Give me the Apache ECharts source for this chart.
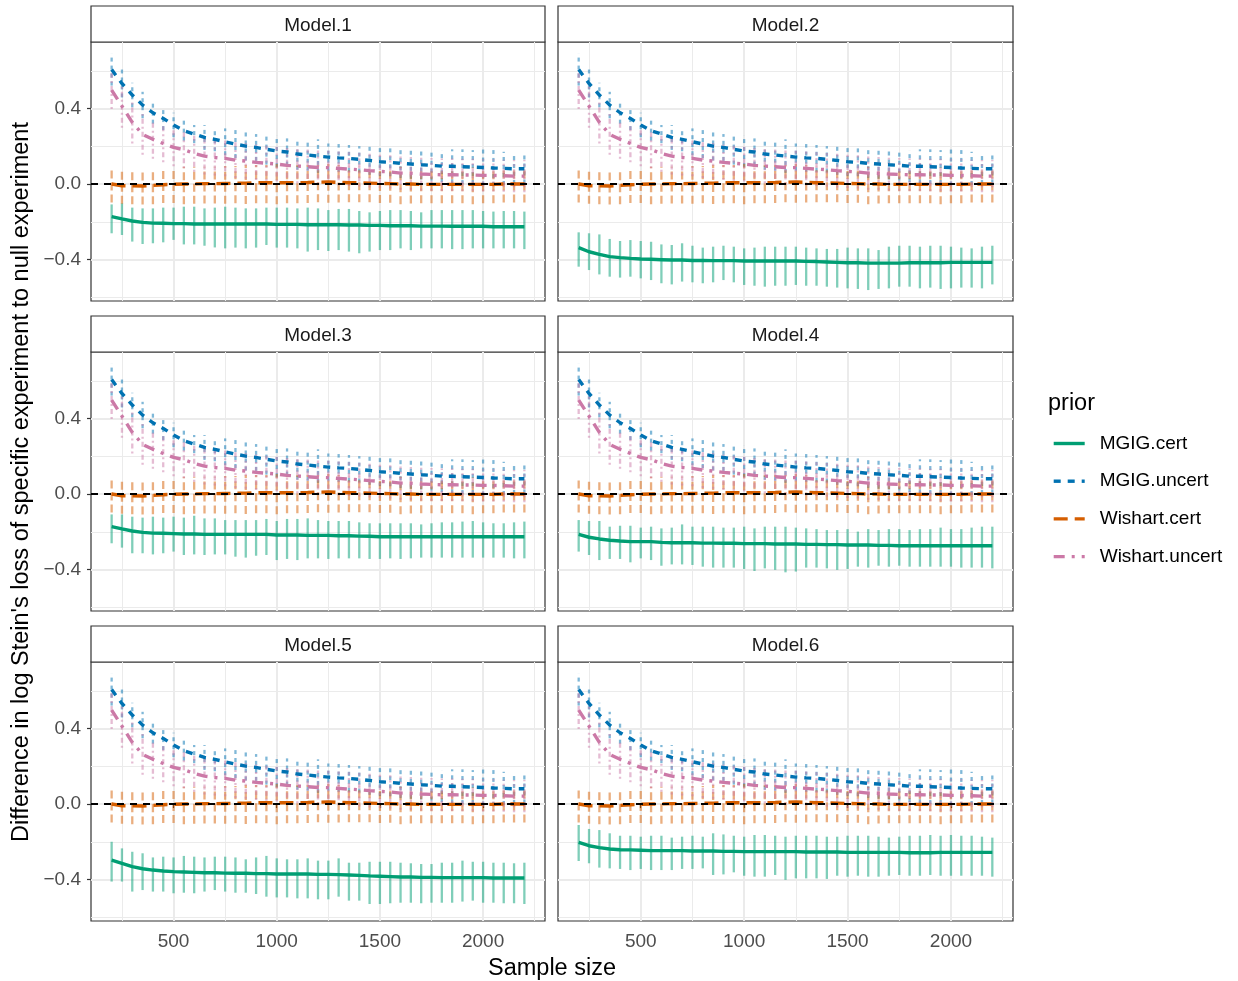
<!DOCTYPE html>
<html>
<head>
<meta charset="utf-8">
<script src="https://cdn.jsdelivr.net/npm/echarts@6/dist/echarts.min.js"></script>
<style>
  html, body { margin: 0; padding: 0; background: #fff; }
  #main { width: 1238px; height: 981px; }
</style>
</head>
<body>
<div id="main"></div>
<script>
// ---- data ----
var sampleSize = [200,250,300,350,400,450,500,550,600,650,700,750,800,850,900,950,1000,1050,1100,1150,1200,
                  1250,1300,1350,1400,1450,1500,1550,1600,1650,1700,1750,1800,1850,1900,1950,2000,2050,2100,2150,2200];
var panelNames = ['Model.1','Model.2','Model.3','Model.4','Model.5','Model.6'];
var priors = ['MGIG.cert','MGIG.uncert','Wishart.cert','Wishart.uncert'];
var xTicks = [500,1000,1500,2000];
var xMinor = [250,750,1250,1750,2250];
var yTicks = [-0.4,0,0.4];
var yMinor = [-0.6,-0.2,0.2,0.6];

// MGIG.cert differs per model
var mgigCertMean = [
  [-0.173,-0.185,-0.196,-0.203,-0.207,-0.208,-0.210,-0.210,-0.212,-0.212,-0.212,-0.212,-0.212,-0.212,-0.212,-0.212,-0.214,-0.214,-0.214,-0.216,-0.216,-0.216,-0.216,-0.217,-0.217,-0.219,-0.219,-0.221,-0.221,-0.221,-0.223,-0.223,-0.223,-0.224,-0.224,-0.224,-0.224,-0.226,-0.226,-0.226,-0.226],
  [-0.337,-0.359,-0.373,-0.385,-0.390,-0.394,-0.397,-0.399,-0.401,-0.403,-0.403,-0.405,-0.405,-0.406,-0.406,-0.406,-0.408,-0.408,-0.408,-0.408,-0.408,-0.408,-0.410,-0.411,-0.413,-0.415,-0.417,-0.417,-0.419,-0.419,-0.419,-0.419,-0.417,-0.417,-0.417,-0.417,-0.415,-0.415,-0.415,-0.415,-0.415],
  [-0.173,-0.185,-0.196,-0.203,-0.207,-0.208,-0.210,-0.212,-0.212,-0.214,-0.214,-0.214,-0.214,-0.214,-0.214,-0.214,-0.217,-0.217,-0.217,-0.219,-0.219,-0.219,-0.221,-0.221,-0.223,-0.224,-0.226,-0.226,-0.226,-0.226,-0.226,-0.226,-0.226,-0.226,-0.226,-0.226,-0.226,-0.226,-0.226,-0.226,-0.226],
  [-0.214,-0.229,-0.238,-0.245,-0.249,-0.252,-0.252,-0.252,-0.256,-0.258,-0.258,-0.258,-0.260,-0.260,-0.261,-0.261,-0.263,-0.263,-0.263,-0.265,-0.265,-0.265,-0.267,-0.267,-0.268,-0.268,-0.270,-0.270,-0.270,-0.272,-0.272,-0.274,-0.274,-0.274,-0.274,-0.274,-0.274,-0.274,-0.274,-0.274,-0.274],
  [-0.297,-0.314,-0.332,-0.343,-0.350,-0.355,-0.358,-0.360,-0.362,-0.364,-0.364,-0.366,-0.367,-0.367,-0.369,-0.369,-0.371,-0.371,-0.371,-0.371,-0.373,-0.373,-0.374,-0.376,-0.378,-0.381,-0.383,-0.385,-0.387,-0.387,-0.389,-0.389,-0.390,-0.390,-0.390,-0.390,-0.390,-0.392,-0.392,-0.392,-0.392],
  [-0.203,-0.221,-0.231,-0.238,-0.242,-0.243,-0.245,-0.247,-0.247,-0.247,-0.247,-0.249,-0.249,-0.249,-0.251,-0.251,-0.252,-0.252,-0.252,-0.252,-0.252,-0.252,-0.254,-0.254,-0.254,-0.254,-0.256,-0.256,-0.256,-0.256,-0.256,-0.256,-0.258,-0.258,-0.258,-0.256,-0.256,-0.256,-0.256,-0.256,-0.256]
];
var mgigCertHi = [
  [-0.108,-0.102,-0.125,-0.129,-0.129,-0.125,-0.125,-0.120,-0.120,-0.129,-0.125,-0.120,-0.125,-0.129,-0.129,-0.125,-0.125,-0.125,-0.129,-0.125,-0.129,-0.138,-0.132,-0.132,-0.143,-0.150,-0.143,-0.138,-0.138,-0.143,-0.150,-0.138,-0.138,-0.138,-0.138,-0.138,-0.143,-0.146,-0.143,-0.143,-0.146],
  [-0.256,-0.261,-0.267,-0.291,-0.302,-0.297,-0.302,-0.306,-0.320,-0.323,-0.314,-0.327,-0.337,-0.332,-0.327,-0.332,-0.341,-0.337,-0.332,-0.332,-0.332,-0.332,-0.337,-0.341,-0.344,-0.344,-0.337,-0.341,-0.341,-0.350,-0.332,-0.327,-0.327,-0.332,-0.327,-0.327,-0.332,-0.337,-0.341,-0.332,-0.327],
  [-0.108,-0.108,-0.120,-0.125,-0.120,-0.125,-0.120,-0.125,-0.115,-0.129,-0.129,-0.138,-0.138,-0.138,-0.138,-0.132,-0.143,-0.132,-0.132,-0.129,-0.138,-0.143,-0.143,-0.143,-0.150,-0.155,-0.155,-0.155,-0.155,-0.155,-0.161,-0.155,-0.150,-0.150,-0.146,-0.143,-0.150,-0.155,-0.155,-0.150,-0.146],
  [-0.138,-0.143,-0.143,-0.173,-0.168,-0.168,-0.178,-0.173,-0.182,-0.178,-0.161,-0.173,-0.173,-0.173,-0.178,-0.178,-0.173,-0.182,-0.173,-0.173,-0.173,-0.178,-0.182,-0.186,-0.191,-0.191,-0.186,-0.199,-0.186,-0.191,-0.186,-0.186,-0.191,-0.186,-0.186,-0.178,-0.186,-0.186,-0.178,-0.173,-0.173],
  [-0.200,-0.235,-0.253,-0.261,-0.283,-0.279,-0.283,-0.275,-0.279,-0.283,-0.279,-0.279,-0.283,-0.293,-0.283,-0.275,-0.288,-0.293,-0.293,-0.288,-0.300,-0.300,-0.288,-0.311,-0.311,-0.306,-0.306,-0.306,-0.311,-0.314,-0.318,-0.318,-0.311,-0.311,-0.300,-0.306,-0.306,-0.311,-0.311,-0.314,-0.311],
  [-0.111,-0.132,-0.138,-0.155,-0.168,-0.168,-0.173,-0.168,-0.168,-0.178,-0.173,-0.168,-0.173,-0.155,-0.161,-0.168,-0.173,-0.164,-0.164,-0.168,-0.173,-0.168,-0.168,-0.168,-0.173,-0.173,-0.168,-0.168,-0.168,-0.173,-0.178,-0.173,-0.168,-0.168,-0.164,-0.168,-0.164,-0.168,-0.168,-0.173,-0.178]
];
var mgigCertLo = [
  [-0.261,-0.270,-0.305,-0.318,-0.314,-0.309,-0.296,-0.320,-0.320,-0.327,-0.336,-0.341,-0.337,-0.341,-0.337,-0.323,-0.337,-0.337,-0.341,-0.358,-0.350,-0.355,-0.350,-0.358,-0.367,-0.358,-0.350,-0.350,-0.341,-0.350,-0.341,-0.341,-0.341,-0.345,-0.345,-0.341,-0.341,-0.341,-0.341,-0.341,-0.345],
  [-0.438,-0.456,-0.479,-0.491,-0.496,-0.491,-0.500,-0.509,-0.526,-0.532,-0.517,-0.521,-0.526,-0.521,-0.509,-0.521,-0.535,-0.539,-0.544,-0.539,-0.539,-0.535,-0.539,-0.539,-0.544,-0.549,-0.553,-0.556,-0.562,-0.556,-0.553,-0.544,-0.544,-0.553,-0.549,-0.556,-0.553,-0.549,-0.549,-0.553,-0.532],
  [-0.261,-0.284,-0.314,-0.314,-0.320,-0.314,-0.305,-0.323,-0.320,-0.323,-0.320,-0.320,-0.332,-0.337,-0.327,-0.323,-0.350,-0.344,-0.350,-0.341,-0.341,-0.344,-0.341,-0.341,-0.341,-0.344,-0.344,-0.341,-0.344,-0.341,-0.337,-0.337,-0.337,-0.337,-0.337,-0.337,-0.337,-0.337,-0.337,-0.341,-0.341],
  [-0.305,-0.323,-0.350,-0.344,-0.344,-0.362,-0.341,-0.350,-0.380,-0.373,-0.373,-0.376,-0.385,-0.390,-0.390,-0.390,-0.397,-0.408,-0.394,-0.402,-0.415,-0.411,-0.390,-0.390,-0.394,-0.402,-0.397,-0.385,-0.390,-0.380,-0.385,-0.380,-0.385,-0.385,-0.385,-0.385,-0.385,-0.390,-0.390,-0.390,-0.394],
  [-0.411,-0.411,-0.464,-0.456,-0.464,-0.464,-0.473,-0.470,-0.473,-0.464,-0.456,-0.464,-0.470,-0.470,-0.477,-0.491,-0.495,-0.495,-0.500,-0.500,-0.505,-0.505,-0.491,-0.512,-0.512,-0.530,-0.530,-0.526,-0.523,-0.523,-0.526,-0.523,-0.523,-0.523,-0.517,-0.512,-0.523,-0.523,-0.526,-0.526,-0.530],
  [-0.302,-0.314,-0.337,-0.341,-0.344,-0.350,-0.344,-0.350,-0.350,-0.350,-0.344,-0.344,-0.341,-0.376,-0.373,-0.362,-0.380,-0.385,-0.385,-0.376,-0.402,-0.394,-0.394,-0.394,-0.397,-0.380,-0.385,-0.380,-0.385,-0.385,-0.380,-0.376,-0.380,-0.380,-0.376,-0.380,-0.380,-0.380,-0.380,-0.380,-0.385]
];

// the other three priors look the same in every model
var mgigUncertMean = [0.607,0.533,0.472,0.419,0.378,0.348,0.313,0.283,0.265,0.247,0.237,0.224,0.212,0.201,0.194,0.184,0.175,0.170,0.159,0.154,0.148,0.143,0.139,0.136,0.131,0.125,0.118,0.115,0.110,0.106,0.102,0.099,0.095,0.094,0.092,0.090,0.088,0.085,0.083,0.081,0.081];
var mgigUncertHi = [0.692,0.607,0.537,0.489,0.436,0.410,0.378,0.336,0.313,0.313,0.300,0.295,0.286,0.277,0.265,0.265,0.260,0.242,0.242,0.237,0.237,0.215,0.212,0.207,0.201,0.201,0.194,0.189,0.189,0.184,0.180,0.180,0.180,0.184,0.184,0.180,0.184,0.180,0.171,0.162,0.159];
var mgigUncertLo = [0.522,0.459,0.407,0.349,0.320,0.286,0.248,0.230,0.217,0.181,0.174,0.153,0.138,0.125,0.123,0.103,0.090,0.098,0.076,0.071,0.059,0.071,0.066,0.065,0.061,0.049,0.042,0.041,0.031,0.028,0.024,0.018,0.010,0.004,0.000,0.000,-0.008,-0.010,-0.005,0.000,0.003];

var wishartCertMean = [0.000,-0.009,-0.009,-0.010,-0.007,-0.004,-0.001,0.000,0.001,0.002,0.002,0.003,0.004,0.005,0.007,0.007,0.007,0.007,0.007,0.008,0.010,0.011,0.009,0.007,0.007,0.005,0.003,0.002,0.000,0.000,-0.002,-0.002,-0.002,-0.002,-0.002,-0.002,-0.002,-0.002,0.000,0.000,0.000];
var wishartCertHi = [0.083,0.071,0.074,0.074,0.078,0.078,0.083,0.092,0.092,0.092,0.092,0.095,0.095,0.101,0.101,0.101,0.106,0.101,0.101,0.101,0.101,0.106,0.101,0.095,0.095,0.092,0.092,0.088,0.092,0.088,0.083,0.083,0.083,0.083,0.083,0.088,0.083,0.083,0.083,0.083,0.083];
var wishartCertLo = [-0.098,-0.104,-0.107,-0.109,-0.107,-0.101,-0.100,-0.107,-0.105,-0.103,-0.103,-0.104,-0.102,-0.106,-0.102,-0.102,-0.107,-0.102,-0.102,-0.100,-0.096,-0.099,-0.098,-0.096,-0.096,-0.097,-0.101,-0.099,-0.107,-0.103,-0.102,-0.102,-0.102,-0.102,-0.102,-0.107,-0.102,-0.102,-0.098,-0.098,-0.098];

var wishartUncertMean = [0.498,0.413,0.327,0.263,0.237,0.215,0.194,0.182,0.162,0.148,0.141,0.136,0.127,0.122,0.115,0.110,0.106,0.099,0.095,0.092,0.088,0.087,0.083,0.079,0.076,0.071,0.067,0.064,0.058,0.057,0.053,0.051,0.049,0.049,0.048,0.048,0.046,0.046,0.044,0.042,0.042];
var wishartUncertHi = [0.598,0.528,0.439,0.371,0.340,0.315,0.294,0.280,0.259,0.245,0.237,0.231,0.222,0.216,0.209,0.203,0.198,0.191,0.186,0.183,0.178,0.177,0.173,0.168,0.165,0.160,0.155,0.152,0.146,0.144,0.140,0.138,0.135,0.135,0.134,0.134,0.131,0.131,0.129,0.127,0.127];
var wishartUncertLo = [0.398,0.298,0.215,0.155,0.134,0.115,0.094,0.084,0.065,0.051,0.045,0.041,0.032,0.028,0.021,0.017,0.014,0.007,0.004,0.001,-0.002,-0.003,-0.007,-0.010,-0.013,-0.018,-0.021,-0.024,-0.030,-0.030,-0.034,-0.036,-0.037,-0.037,-0.038,-0.038,-0.039,-0.039,-0.041,-0.043,-0.043];

// ---- styling ----
var colors = ['#009E73','#0072B2','#D55E00','#CC79A7'];
var barColors = ['rgba(0,158,115,0.5)','rgba(0,114,178,0.5)','rgba(213,94,0,0.5)','rgba(204,121,167,0.5)'];
var lineDash = ['solid',[7,7],[14,7],[11,7,3,7]];
var barDash = [null,[4,4],[8,4],[2,3,5,3]];
var FONT = '"Liberation Sans", Arial, sans-serif';

var colLeft = [91, 558];
var colWidth = [454, 455];
var rowTop = [42, 352, 662];
var plotH = 259;
var stripH = 36;

var dom = document.getElementById('main');
var myChart = echarts.init(dom, null, {renderer: 'canvas'});

function seriesFor(p, k) {
    if (k === 0) return {mean: mgigCertMean[p], lo: mgigCertLo[p], hi: mgigCertHi[p]};
    if (k === 1) return {mean: mgigUncertMean, lo: mgigUncertLo, hi: mgigUncertHi};
    if (k === 2) return {mean: wishartCertMean, lo: wishartCertLo, hi: wishartCertHi};
    return {mean: wishartUncertMean, lo: wishartUncertLo, hi: wishartUncertHi};
}

var grids = [], xAxes = [], yAxes = [], series = [], graphics = [];

for (var p = 0; p < 6; p++) {
    var col = p % 2, row = Math.floor(p / 2);
    var bottomRow = row === 2, leftCol = col === 0;
    grids.push({
        left: colLeft[col], top: rowTop[row], width: colWidth[col], height: plotH,
        show: true, borderColor: '#333333', borderWidth: 1.2, backgroundColor: '#fff'
    });
    // main x axis + minor x axis (only for minor grid lines)
    xAxes.push({
        gridIndex: p, type: 'value', min: 100, max: 2300,
        axisLine: {show: false},
        axisTick: {show: bottomRow, customValues: xTicks, length: 4, lineStyle: {color: '#333333', width: 1.2}},
        axisLabel: {show: bottomRow, customValues: xTicks, margin: 11, fontSize: 19, color: '#4D4D4D', fontFamily: FONT,
                    formatter: function (v) { return String(v); }},
        splitLine: {show: true, lineStyle: {color: '#EBEBEB', width: 2}}
    });
    xAxes.push({
        gridIndex: p, type: 'value', min: 100, max: 2300, position: 'bottom',
        axisLine: {show: false},
        axisTick: {show: false, customValues: xMinor},
        axisLabel: {show: false},
        splitLine: {show: true, lineStyle: {color: '#EBEBEB', width: 1}}
    });
    yAxes.push({
        gridIndex: p, type: 'value', min: -0.62, max: 0.753,
        axisLine: {show: false},
        axisTick: {show: leftCol, customValues: yTicks, length: 4, lineStyle: {color: '#333333', width: 1.2}},
        axisLabel: {show: leftCol, customValues: yTicks, margin: 10, fontSize: 19, color: '#4D4D4D', fontFamily: FONT,
                    padding: [4, 0, 0, 0],
                    formatter: function (v) { return (v < 0 ? '\u2212' : '') + Math.abs(v).toFixed(1); }},
        splitLine: {show: true, lineStyle: {color: '#EBEBEB', width: 2}}
    });
    yAxes.push({
        gridIndex: p, type: 'value', min: -0.62, max: 0.753, position: 'left',
        axisLine: {show: false},
        axisTick: {show: false, customValues: yMinor},
        axisLabel: {show: false},
        splitLine: {show: true, lineStyle: {color: '#EBEBEB', width: 1}}
    });

    // error bars
    for (var k = 0; k < 4; k++) {
        var s = seriesFor(p, k);
        var barData = sampleSize.map(function (n, i) { return [n, s.lo[i], s.hi[i]]; });
        var bar = {
            name: priors[k] + ' bars',
            type: 'custom',
            xAxisIndex: 2 * p, yAxisIndex: 2 * p,
            z: 2, clip: true, silent: true,
            encode: {x: 0, y: [1, 2]},
            data: barData,
            renderItem: (function (kk) {
                return function (params, api) {
                    var a = api.coord([api.value(0), api.value(1)]);
                    var b = api.coord([api.value(0), api.value(2)]);
                    return {
                        type: 'line',
                        shape: {x1: a[0], y1: a[1], x2: b[0], y2: b[1]},
                        style: {stroke: barColors[kk], lineWidth: 2.3, lineDash: barDash[kk]}
                    };
                };
            })(k)
        };
        if (k === 0) {
            bar.markLine = {
                silent: true, symbol: 'none', label: {show: false},
                lineStyle: {color: '#000', type: [7, 6], width: 1.8},
                data: [{yAxis: 0}]
            };
        }
        series.push(bar);
    }
    // mean lines
    for (var k2 = 0; k2 < 4; k2++) {
        var s2 = seriesFor(p, k2);
        series.push({
            name: priors[k2],
            type: 'line',
            xAxisIndex: 2 * p, yAxisIndex: 2 * p,
            z: 4, symbol: 'none', silent: true,
            color: colors[k2],
            lineStyle: {color: colors[k2], width: 3.4, type: lineDash[k2]},
            data: sampleSize.map(function (n, i) { return [n, s2.mean[i]]; })
        });
    }

    // strip
    graphics.push({
        type: 'rect', silent: true,
        shape: {x: colLeft[col], y: rowTop[row] - stripH, width: colWidth[col], height: stripH},
        style: {fill: '#FFFFFF', stroke: '#333333', lineWidth: 1.2}
    });
    graphics.push({
        type: 'text', silent: true,
        x: colLeft[col] + colWidth[col] / 2, y: rowTop[row] - stripH / 2 + 2,
        style: {text: panelNames[p], font: '19px ' + FONT, fill: '#1A1A1A', textAlign: 'center', textVerticalAlign: 'middle'}
    });
}

graphics.push({
    type: 'text', silent: true, x: 552, y: 969,
    style: {text: 'Sample size', font: '23.5px ' + FONT, fill: '#000', textAlign: 'center', textVerticalAlign: 'middle'}
});
graphics.push({
    type: 'text', silent: true, x: 22, y: 482, rotation: Math.PI / 2,
    style: {text: "Difference in log Stein's loss of specific experiment to null experiment",
            font: '23.5px ' + FONT, fill: '#000', textAlign: 'center', textVerticalAlign: 'middle'}
});
graphics.push({
    type: 'text', silent: true, x: 1048, y: 404,
    style: {text: 'prior', font: '23.5px ' + FONT, fill: '#000', textAlign: 'left', textVerticalAlign: 'middle'}
});

var option = {
    animation: false,
    backgroundColor: '#ffffff',
    grid: grids,
    xAxis: xAxes,
    yAxis: yAxes,
    legend: {
        data: priors,
        orient: 'vertical',
        left: 1052, top: 434, padding: 0,
        itemWidth: 31, itemHeight: 16, itemGap: 18.7,
        selectedMode: false,
        itemStyle: {opacity: 0},
        lineStyle: {width: 3.4},
        textStyle: {fontSize: 19, color: '#000', fontFamily: FONT, padding: [0, 0, 0, 10]}
    },
    graphic: graphics,
    series: series
};

if (option && typeof option === 'object') {
    myChart.setOption(option, true);
}
</script>
</body>
</html>
